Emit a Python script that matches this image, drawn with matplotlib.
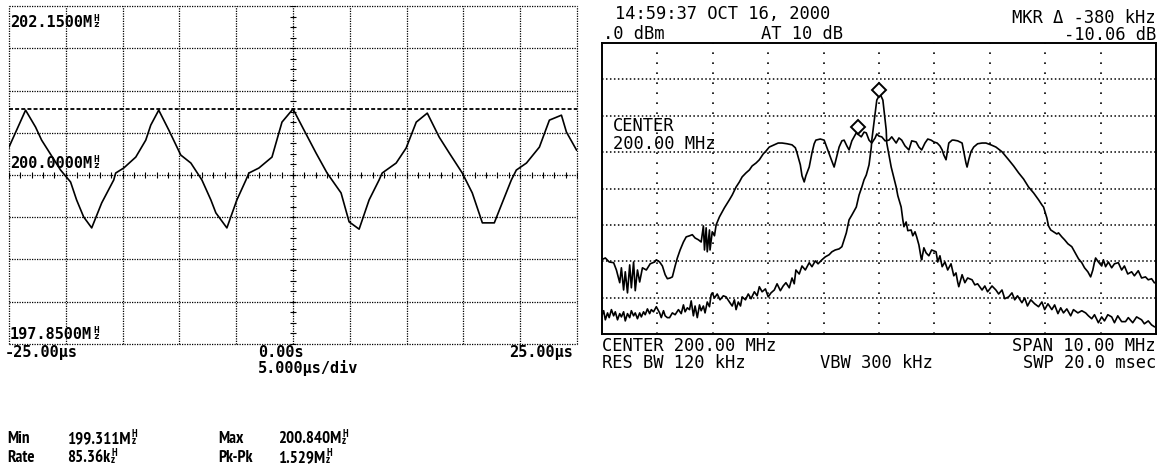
import matplotlib
matplotlib.use('Agg')
import matplotlib.pyplot as plt
from matplotlib import font_manager as fm
from matplotlib.font_manager import FontProperties
import numpy as np

# ---------------- data: oscilloscope (modulation domain) ----------------
time_us = [-25.0, -23.54, -22.66, -22.13, -20.46, -19.58, -19.05, -18.43, -17.72, -16.84,
           -15.78, -15.61, -14.90, -13.84, -12.96, -12.52, -11.82, -10.93, -9.88, -8.99,
           -8.02, -7.23, -6.79, -5.82, -4.94, -4.14, -3.88, -3.00, -1.85, -0.97,
           0.0, 0.97, 2.03, 3.00, 4.23, 4.94, 5.82, 6.70, 7.58, 7.85,
           9.08, 9.96, 10.85, 11.82, 12.87, 13.76, 14.90, 15.78, 16.67, 17.72,
           18.17, 19.22, 19.66, 20.55, 21.69, 22.57, 23.63, 24.07, 24.96]
freq_mhz = [200.355, 200.825, 200.609, 200.444, 200.063, 199.911, 199.683, 199.467, 199.327, 199.645,
            199.937, 200.025, 200.089, 200.228, 200.444, 200.635, 200.825, 200.571, 200.254, 200.152,
            199.937, 199.683, 199.518, 199.327, 199.683, 199.937, 200.025, 200.089, 200.228, 200.673,
            200.840, 200.571, 200.279, 200.025, 199.772, 199.404, 199.311, 199.683, 199.937, 200.025,
            200.152, 200.343, 200.673, 200.787, 200.482, 200.279, 200.025, 199.772, 199.391, 199.391,
            199.556, 199.937, 200.063, 200.152, 200.355, 200.698, 200.761, 200.546, 200.317]
scope_ylim = (197.85, 202.15)
scope_xlim = (-25.0, 25.0)
max_line_mhz = 200.840
y_labels = ["202.1500M", "200.0000M", "197.8500M"]
x_labels = ["-25.00µs", "0.00s", "25.00µs"]
x_div_label = "5.000µs/div"
stats = [("Min", "199.311M"), ("Max", "200.840M"), ("Rate", "85.36k"), ("Pk-Pk", "1.529M")]

# ---------------- data: spectrum analyzer ----------------
center_mhz = 200.0
wide_offset = [-5.01,-4.94,-4.87,-4.79,-4.74,-4.68,-4.65,-4.61,-4.58,-4.54,-4.50,-4.47,-4.43,-4.40,-4.36,-4.32,-4.27,-4.20,-4.13,-4.05,
               -4.02,-3.96,-3.91,-3.86,-3.82,-3.77,-3.73,-3.68,-3.64,-3.59,-3.53,-3.48,-3.42,-3.37,-3.32,-3.26,-3.21,-3.17,-3.15,-3.12,
               -3.10,-3.06,-3.05,-3.01,-2.97,-2.94,-2.88,-2.79,-2.70,-2.65,-2.58,-2.52,-2.47,-2.40,-2.34,-2.29,-2.22,-2.16,-2.09,-2.04,
               -1.98,-1.89,-1.82,-1.75,-1.66,-1.57,-1.51,-1.48,-1.42,-1.39,-1.35,-1.32,-1.26,-1.21,-1.17,-1.14,-1.06,-0.99,-0.94,-0.86,
               -0.81,-0.77,-0.72,-0.67,-0.63,-0.58,-0.54,-0.49,-0.41,-0.36,-0.32,-0.27,-0.23,-0.18,-0.13,-0.07,-0.04,0.00,0.05,0.11,
               0.18,0.23,0.31,0.36,0.41,0.47,0.54,0.59,0.67,0.72,0.77,0.83,0.88,0.94,0.99,1.05,1.10,1.14,1.17,1.21,
               1.24,1.26,1.32,1.35,1.42,1.50,1.53,1.57,1.59,1.62,1.66,1.71,1.78,1.86,1.93,2.02,2.11,2.22,2.34,2.43,
               2.52,2.61,2.70,2.79,2.88,2.94,2.97,3.03,3.06,3.10,3.15,3.21,3.24,3.30,3.35,3.41,3.48,3.53,3.60,3.66,
               3.71,3.77,3.82,3.86,3.89,3.91,3.96,4.02,4.05,4.09,4.14,4.20,4.25,4.32,4.38,4.43,4.49,4.56,4.61,4.68,
               4.74,4.81,4.86,4.92,4.97]
wide_db = [-59.6,-59.1,-60.2,-60.4,-62.4,-65.9,-61.8,-67.9,-62.9,-68.7,-61.0,-67.3,-60.2,-68.1,-62.4,-65.7,-61.8,-62.4,-60.7,-60.2,
           -59.6,-60.2,-61.3,-63.7,-64.8,-64.6,-64.3,-61.3,-59.1,-56.9,-54.7,-53.3,-53.0,-52.7,-53.6,-54.1,-54.7,-50.3,-56.9,-50.8,
           -57.4,-51.4,-56.9,-51.9,-53.0,-50.0,-47.8,-45.3,-43.1,-41.8,-39.6,-38.2,-36.8,-35.7,-34.9,-33.8,-33.0,-32.1,-30.5,-29.7,
           -28.6,-28.0,-27.5,-27.5,-27.7,-28.0,-28.8,-30.2,-33.5,-36.5,-38.2,-36.5,-34.1,-30.2,-27.7,-26.7,-26.4,-26.7,-28.8,-32.1,
           -34.1,-31.6,-28.6,-26.9,-26.7,-28.3,-29.4,-26.9,-24.7,-25.3,-25.8,-24.5,-24.7,-26.7,-27.5,-26.1,-25.0,-25.6,-25.8,-26.9,
           -26.7,-25.8,-27.5,-26.1,-26.7,-28.3,-29.4,-26.9,-27.2,-28.6,-29.4,-27.5,-26.4,-26.7,-27.2,-27.5,-28.3,-29.4,-30.8,-32.1,
           -29.4,-27.5,-26.7,-26.7,-26.9,-27.5,-29.9,-33.0,-34.1,-32.1,-29.9,-28.6,-27.7,-27.5,-27.5,-28.0,-28.6,-29.9,-32.1,-33.8,
           -35.7,-37.4,-39.6,-41.2,-43.1,-44.5,-45.1,-48.1,-50.3,-51.4,-51.9,-52.5,-52.2,-53.3,-54.1,-55.2,-56.0,-57.4,-59.3,-60.4,
           -61.8,-62.9,-64.3,-62.4,-60.2,-59.1,-60.2,-61.3,-59.6,-61.5,-60.2,-61.8,-60.7,-60.4,-62.4,-61.3,-63.5,-62.9,-64.0,-62.6,
           -64.6,-64.3,-65.1,-64.8,-65.9]
narrow_offset = [-5.01,-4.97,-4.94,-4.90,-4.87,-4.83,-4.79,-4.76,-4.72,-4.68,-4.65,-4.61,-4.58,-4.54,-4.50,-4.47,-4.43,-4.40,-4.36,-4.32,
                 -4.29,-4.25,-4.22,-4.18,-4.14,-4.11,-4.07,-4.02,-3.96,-3.93,-3.89,-3.86,-3.82,-3.78,-3.73,-3.68,-3.62,-3.57,-3.53,-3.50,
                 -3.46,-3.42,-3.39,-3.35,-3.32,-3.28,-3.24,-3.21,-3.17,-3.14,-3.10,-3.06,-3.03,-3.01,-2.97,-2.92,-2.87,-2.81,-2.76,-2.70,
                 -2.65,-2.61,-2.58,-2.54,-2.50,-2.47,-2.41,-2.36,-2.31,-2.25,-2.20,-2.16,-2.11,-2.05,-2.00,-1.95,-1.89,-1.84,-1.78,-1.73,
                 -1.68,-1.62,-1.57,-1.53,-1.50,-1.44,-1.39,-1.33,-1.26,-1.21,-1.15,-1.10,-1.03,-0.97,-0.90,-0.85,-0.79,-0.72,-0.67,-0.63,
                 -0.59,-0.54,-0.49,-0.41,-0.36,-0.31,-0.27,-0.23,-0.18,-0.14,-0.13,-0.09,-0.04,0.02,0.07,0.09,0.13,0.14,0.18,0.22,
                 0.27,0.31,0.34,0.40,0.43,0.45,0.49,0.52,0.58,0.61,0.65,0.68,0.72,0.76,0.77,0.81,0.85,0.90,0.95,1.03,
                 1.06,1.10,1.14,1.19,1.24,1.30,1.35,1.39,1.42,1.44,1.50,1.55,1.60,1.68,1.73,1.78,1.86,1.91,1.96,2.04,
                 2.11,2.16,2.22,2.27,2.34,2.40,2.45,2.50,2.58,2.63,2.68,2.74,2.81,2.88,2.94,2.99,3.05,3.12,3.17,3.23,
                 3.28,3.33,3.39,3.46,3.51,3.59,3.66,3.73,3.78,3.84,3.89,3.96,4.02,4.07,4.13,4.20,4.25,4.31,4.38,4.45,
                 4.50,4.58,4.65,4.74,4.79,4.86,4.92,4.97]
narrow_db = [-75.3,-73.6,-76.1,-74.2,-75.5,-73.3,-75.0,-73.9,-76.1,-74.4,-75.3,-73.9,-76.4,-74.4,-75.5,-73.6,-75.0,-74.2,-75.8,-74.2,
             -75.3,-73.9,-74.7,-73.1,-74.4,-73.3,-73.9,-72.5,-74.2,-75.5,-73.6,-75.0,-75.5,-75.5,-74.2,-74.7,-73.3,-74.4,-72.0,-73.9,
             -72.8,-73.3,-70.9,-75.0,-72.3,-75.5,-72.0,-73.6,-72.3,-74.2,-71.2,-72.5,-69.2,-68.7,-70.1,-69.0,-70.6,-69.5,-69.8,-71.2,
             -72.3,-70.6,-73.3,-71.2,-72.3,-69.8,-70.6,-69.0,-70.3,-68.4,-69.5,-67.0,-68.4,-67.6,-69.8,-68.7,-67.9,-66.2,-68.1,-66.8,
             -65.9,-67.3,-64.6,-66.2,-62.4,-63.5,-61.3,-62.4,-60.4,-61.5,-59.9,-60.7,-59.6,-58.8,-58.2,-57.4,-56.9,-56.6,-56.0,-54.1,
             -52.2,-48.6,-47.3,-45.1,-41.8,-39.6,-37.6,-36.3,-33.5,-28.8,-26.7,-21.7,-15.7,-14.0,-15.7,-18.4,-23.9,-27.5,-30.8,-34.1,
             -37.1,-39.6,-42.0,-45.1,-48.6,-50.5,-49.2,-51.6,-51.4,-53.0,-51.9,-53.3,-55.5,-59.1,-59.6,-56.3,-57.7,-58.5,-56.9,-57.4,
             -60.2,-58.5,-61.5,-60.2,-62.4,-60.7,-64.0,-63.2,-65.7,-67.0,-63.7,-65.9,-64.6,-65.1,-66.5,-66.2,-67.9,-66.8,-68.4,-66.8,
             -67.9,-69.0,-67.9,-70.3,-69.8,-68.7,-70.6,-69.5,-71.4,-70.1,-72.3,-70.6,-71.7,-72.5,-71.2,-73.3,-71.7,-73.3,-72.0,-74.4,
             -72.8,-74.2,-73.1,-75.0,-73.3,-74.2,-73.6,-74.2,-75.0,-75.8,-74.7,-76.9,-75.3,-76.4,-74.7,-75.3,-76.9,-75.0,-76.6,-76.6,
             -75.5,-76.9,-75.3,-76.1,-77.2,-76.4,-77.5,-78.0]
marker_offset = [0.00, -0.38]
marker_db = [-13.0, -23.06]
sa_header = ["14:59:37 OCT 16, 2000", ".0 dBm", "AT 10 dB", "MKR Δ -380 kHz", "-10.06 dB"]
sa_inner = ["CENTER", "200.00 MHz"]
sa_footer = ["CENTER 200.00 MHz", "RES BW 120 kHz", "VBW 300 kHz", "SPAN 10.00 MHz", "SWP 20.0 msec"]

# ---------------- figure ----------------
W, H = 1158, 471
fig = plt.figure(figsize=(W / 100, H / 100), dpi=100)
fig.patch.set_facecolor('white')
renderer = fig.canvas.get_renderer()


def cap_px(size):
    return 0.73 * size * 100 / 72


def _font_kw(size, kw):
    kw = dict(kw)
    if 'fontproperties' in kw:
        fp = kw.pop('fontproperties').copy()
        fp.set_size(size)
        kw['fontproperties'] = fp
    else:
        kw['fontsize'] = size
    return kw


def put(x, yc, s, size, ha='left', **kw):
    """Place text so that its capital letters are centred on pixel row yc."""
    yb = yc + cap_px(size) / 2
    return fig.text(x / W, 1 - yb / H, s, ha=ha, va='baseline', color='k', **_font_kw(size, kw))


def put_hz(x, yc, prefix, size, **kw):
    """Text followed by the instrument's stacked H-over-z unit glyph."""
    t = put(x, yc, prefix, size, **kw)
    bb = t.get_window_extent(renderer=renderer)
    xs = (bb.x1 + 1.0) / W
    fig.text(xs, 1 - (yc + 0.5) / H, "H\nz", ha='left', va='center', ma='left',
             linespacing=0.7, color='k', **_font_kw(size * 0.62, kw))
    return t


# narrow (condensed) bold font for the statistics lines, if one is installed
narrow_path = None
best = None
for f in fm.fontManager.ttflist:
    nm = f.name.lower()
    fn = f.fname.lower()
    st = str(f.stretch).lower()
    is_narrow = ('narrow' in nm or 'condensed' in nm or 'narrow' in fn or
                 ('condensed' in fn and 'semicondensed' not in fn) or st in ('condensed', 'extra-condensed'))
    if not is_narrow or f.style != 'normal' or 'italic' in fn or 'oblique' in fn:
        continue
    try:
        w = int(f.weight)
    except (TypeError, ValueError):
        w = 700 if 'bold' in str(f.weight).lower() else 400
    score = abs(w - 700) + (0 if ('narrow' in nm or 'narrow' in fn) else 1000)
    if best is None or score < best:
        best = score
        narrow_path = f.fname

# ---- left: scope ----
ax1 = fig.add_axes([9 / W, 1 - 344 / H, 568 / W, 338 / H])
ax1.set_xlim(*scope_xlim)
ax1.set_ylim(*scope_ylim)
ax1.axis('off')
dot = (0, (1, 1))
for x in np.linspace(scope_xlim[0], scope_xlim[1], 11):
    ax1.axvline(x, color='k', lw=0.9, ls=dot, clip_on=False)
for y in np.linspace(scope_ylim[0], scope_ylim[1], 9):
    ax1.axhline(y, color='k', lw=0.9, ls=dot, clip_on=False)
ax1.axhline(max_line_mhz, color='k', lw=1.3, ls=(0, (2.2, 1.2)))
yc = (scope_ylim[0] + scope_ylim[1]) / 2
ax1.plot(np.arange(-25, 25.01, 1.0), [yc] * 51, ls='none', marker='|', ms=5, mew=0.8, color='k')
ax1.plot([0] * 33, np.linspace(scope_ylim[0], scope_ylim[1], 33), ls='none', marker='_', ms=5, mew=0.8, color='k')
ax1.plot(time_us, freq_mhz, color='k', lw=1.2)

mono_b = dict(family='DejaVu Sans Mono', weight='bold')
put_hz(10, 21, y_labels[0], 11, **mono_b)
put_hz(10, 162, y_labels[1], 11, **mono_b)
put_hz(10, 333, y_labels[2], 11, **mono_b)
put(5, 351, x_labels[0], 11, **mono_b)
put(258, 351, x_labels[1], 11, **mono_b)
put(573, 351, x_labels[2], 11, ha='right', **mono_b)
put(258, 367, x_div_label, 11, **mono_b)

if narrow_path is not None:
    nar = dict(fontproperties=FontProperties(fname=narrow_path))
    nar_size = 12.2
else:
    nar = dict(family='DejaVu Sans Mono', weight='bold')
    nar_size = 10.5
pos = [(7, 67, 437), (218, 278, 437), (7, 67, 456), (218, 278, 456)]
for (lab, val), (xl, xv, yy) in zip(stats, pos):
    put(xl, yy, lab, nar_size, **nar)
    put_hz(xv, yy, val, nar_size, **nar)

# ---- right: spectrum analyzer ----
ax2 = fig.add_axes([602 / W, 1 - 334 / H, 554 / W, 291 / H])
ax2.set_xlim(center_mhz - 5, center_mhz + 5)
ax2.set_ylim(-80, 0)
ax2.set_xticks([])
ax2.set_yticks([])
for s in ax2.spines.values():
    s.set_linewidth(1.4)
    s.set_color('k')
for x in np.arange(center_mhz - 4, center_mhz + 4.5, 1.0):
    ax2.axvline(x, color='k', lw=1.2, ls=(0, (1, 5)))
for y in np.arange(-70, 0, 10):
    ax2.axhline(y, color='k', lw=1.1, ls=(0, (1, 1.6)))
ax2.plot(center_mhz + np.array(wide_offset), wide_db, color='k', lw=1.2)
ax2.plot(center_mhz + np.array(narrow_offset), narrow_db, color='k', lw=1.2)
ax2.plot(center_mhz + np.array(marker_offset), marker_db, ls='none', marker='D', ms=7,
         mfc='white', mec='k', mew=1.4)

sa = dict(family='DejaVu Sans Mono')
sz = 12.3
put(615, 13, sa_header[0], sz, **sa)
put(603, 33, sa_header[1], sz, **sa)
put(761, 33, sa_header[2], sz, **sa)
put(1156, 17, sa_header[3], sz, ha='right', **sa)
put(1156, 34, sa_header[4], sz, ha='right', **sa)
put(613, 125, sa_inner[0], sz, **sa)
put(613, 143, sa_inner[1], sz, **sa)
put(602, 345, sa_footer[0], sz, **sa)
put(602, 362, sa_footer[1], sz, **sa)
put(820, 362, sa_footer[2], sz, **sa)
put(1156, 345, sa_footer[3], sz, ha='right', **sa)
put(1156, 362, sa_footer[4], sz, ha='right', **sa)

fig.savefig('out.png', dpi=100, facecolor='white')
